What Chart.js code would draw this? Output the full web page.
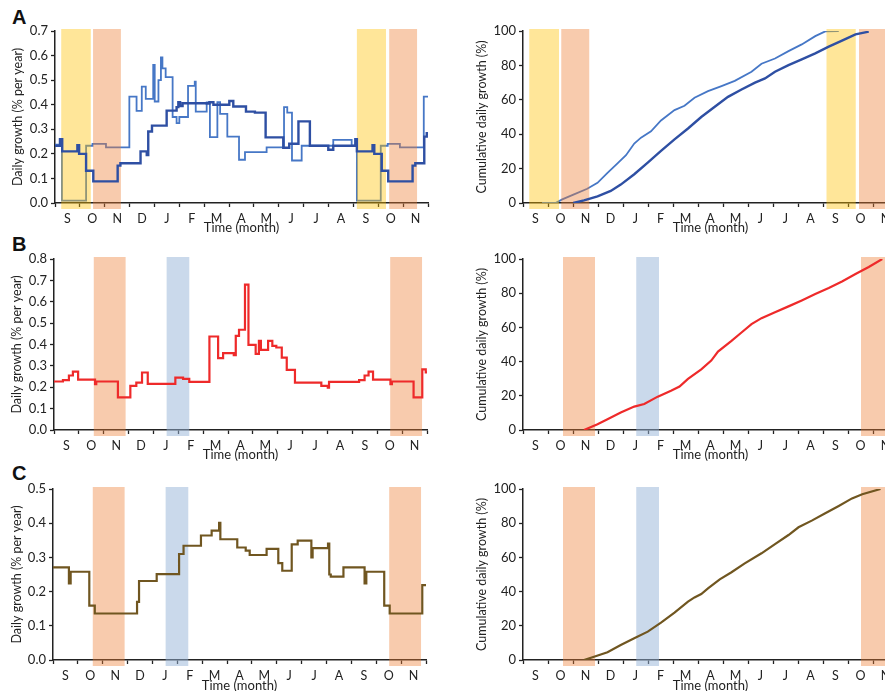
<!DOCTYPE html>
<html>
<head>
<meta charset="utf-8">
<script src="https://cdn.jsdelivr.net/npm/chart.js@4.4.1/dist/chart.umd.min.js"></script>
<style>
  html, body { margin: 0; padding: 0; width: 885px; height: 691px; overflow: hidden; background: #fff; }
  canvas { position: absolute; }
  .tag { position: absolute; font: bold 20px "Liberation Sans", Arial, sans-serif; line-height: 20px; color: #111; }
</style>
</head>
<body>
<div class="tag" style="left:12px;top:7px">A</div>
<div class="tag" style="left:12px;top:234px">B</div>
<div class="tag" style="left:12px;top:463px">C</div>

<canvas id="aLeft" width="440" height="236" style="left:0;top:0"></canvas>
<canvas id="aRight" width="460" height="236" style="left:440px;top:0"></canvas>
<canvas id="bLeft" width="440" height="227" style="left:0;top:236px"></canvas>
<canvas id="bRight" width="460" height="227" style="left:440px;top:236px"></canvas>
<canvas id="cLeft" width="440" height="231" style="left:0;top:463px"></canvas>
<canvas id="cRight" width="460" height="231" style="left:440px;top:463px"></canvas>

<script>
// x values are months counted from the start of September
const months = ['S','O','N','D','J','F','M','A','M','J','J','A','S','O','N'];

// shaded periods [from, to]
const yellowA = [[0.25, 1.44], [12.14, 13.31]];
const orangeA = [[1.53, 2.65], [13.44, 14.56]];
const orangeBC = [[1.6, 2.88], [13.52, 14.8]];
const blueBC = [[4.53, 5.44]];

// A - daily growth (step changes)
const aDarkX = [0, 0.20, 0.29, 0.90, 0.97, 1.25, 1.54, 2.52, 2.63, 3.44, 3.69, 3.75, 3.90, 4.49, 4.89, 4.96, 5.03, 5.13, 6.10, 6.21, 6.37, 7.01, 7.17, 7.68, 8.04, 8.47, 9.18, 9.42, 9.79, 10.25, 10.99, 11.19, 12.08, 12.14, 12.77, 12.84, 13.14, 13.40, 14.38, 14.49, 14.85, 14.95, 15];
const aDarkY = [0.233, 0.26, 0.21, 0.235, 0.20, 0.131, 0.088, 0.152, 0.162, 0.21, 0.195, 0.291, 0.315, 0.376, 0.39, 0.41, 0.395, 0.406, 0.405, 0.41, 0.40, 0.415, 0.393, 0.372, 0.368, 0.267, 0.225, 0.241, 0.332, 0.233, 0.217, 0.233, 0.26, 0.21, 0.235, 0.20, 0.131, 0.088, 0.152, 0.162, 0.27, 0.284, 0.284];
const aLightX = [0, 0.20, 0.28, 1.25, 1.51, 2.05, 2.99, 3.28, 3.49, 3.65, 3.95, 4.01, 4.16, 4.26, 4.32, 4.45, 4.73, 4.89, 5.00, 5.35, 5.62, 5.66, 6.10, 6.23, 6.53, 6.64, 6.93, 7.40, 7.64, 8.51, 9.21, 9.34, 9.53, 9.92, 11.19, 11.93, 12.08, 12.14, 13.10, 13.38, 13.87, 14.83, 15];
const aLightY = [0.237, 0.26, 0.01, 0.233, 0.241, 0.226, 0.433, 0.375, 0.474, 0.424, 0.562, 0.413, 0.50, 0.593, 0.548, 0.512, 0.35, 0.325, 0.35, 0.477, 0.494, 0.372, 0.409, 0.268, 0.41, 0.363, 0.27, 0.176, 0.207, 0.226, 0.39, 0.368, 0.173, 0.233, 0.257, 0.233, 0.26, 0.01, 0.233, 0.241, 0.226, 0.433, 0.433];

// A - cumulative
const aCumDarkX = [2.01, 2.44, 2.98, 3.51, 3.91, 4.45, 4.99, 5.52, 6.06, 6.60, 7.13, 7.67, 8.20, 8.74, 9.28, 9.68, 10.08, 10.62, 11.15, 11.69, 12.23, 12.76, 13.30, 13.83];
const aCumDarkY = [0, 1.5, 3.9, 7, 10.7, 16.7, 23.5, 30.3, 37, 43.3, 50, 56, 61.7, 66, 70, 72.4, 76.3, 80.2, 83.5, 87, 90.9, 94.4, 98, 99.6];
const aCumLightX = [0.76, 1.30, 1.57, 2.04, 2.57, 2.98, 3.38, 3.78, 4.12, 4.45, 4.72, 5.12, 5.52, 6.06, 6.46, 6.86, 7.40, 7.94, 8.47, 9.14, 9.54, 10.08, 10.62, 11.15, 11.69, 12.09, 12.63];
const aCumLightY = [0, 0, 2.1, 5, 8.3, 11.7, 17.5, 23, 27.8, 34.6, 38, 41.7, 48, 54, 56.5, 61.2, 65, 68, 71, 76.3, 81, 84, 88.3, 92.2, 97, 99.8, 100];

// B
const bX = [0, 0.36, 0.60, 0.76, 0.97, 1.65, 1.70, 2.57, 3.07, 3.31, 3.54, 3.77, 4.88, 5.19, 5.44, 6.25, 6.60, 6.80, 7.23, 7.31, 7.44, 7.68, 7.82, 8.11, 8.24, 8.32, 8.61, 8.78, 8.94, 9.16, 9.36, 9.69, 10.75, 11.01, 11.06, 12.27, 12.49, 12.65, 12.83, 13.53, 13.59, 14.46, 14.81, 14.95, 15];
const bY = [0.227, 0.233, 0.255, 0.273, 0.236, 0.214, 0.227, 0.153, 0.206, 0.222, 0.269, 0.216, 0.245, 0.239, 0.225, 0.4375, 0.336, 0.36, 0.35, 0.44, 0.469, 0.68, 0.398, 0.356, 0.417, 0.375, 0.417, 0.394, 0.386, 0.339, 0.281, 0.222, 0.206, 0.198, 0.225, 0.233, 0.255, 0.273, 0.236, 0.214, 0.227, 0.153, 0.284, 0.27, 0.27];
const bCumX = [2.44, 2.98, 3.38, 3.91, 4.45, 4.85, 5.39, 5.92, 6.26, 6.60, 7.13, 7.53, 7.80, 8.34, 8.74, 9.14, 9.54, 10.08, 10.62, 11.15, 11.69, 12.23, 12.76, 13.30, 13.83, 14.37];
const bCumY = [0, 3.3, 6.25, 10.2, 13.7, 15.2, 19.5, 23, 25.4, 29.9, 35.5, 40.6, 45.9, 52.1, 57, 61.9, 65.4, 68.9, 72.3, 75.8, 79.5, 83, 86.9, 91.2, 95.3, 100];

// C
const cX = [0, 0.64, 0.71, 1.46, 1.68, 3.38, 3.46, 4.17, 5.07, 5.25, 5.95, 6.38, 6.68, 6.73, 7.41, 7.75, 7.91, 8.59, 9.06, 9.22, 9.60, 9.84, 10.39, 10.44, 11.06, 11.11, 11.17, 11.68, 12.53, 12.60, 13.32, 13.54, 14.85, 15];
const cY = [0.271, 0.224, 0.258, 0.159, 0.136, 0.17, 0.231, 0.251, 0.31, 0.334, 0.364, 0.378, 0.401, 0.353, 0.329, 0.32, 0.307, 0.325, 0.283, 0.261, 0.338, 0.349, 0.30, 0.327, 0.34, 0.25, 0.244, 0.271, 0.224, 0.258, 0.159, 0.136, 0.219, 0.22];
const cCumX = [2.44, 2.84, 3.38, 3.91, 4.45, 4.99, 5.52, 6.06, 6.60, 6.86, 7.13, 7.40, 7.87, 8.34, 8.87, 9.54, 10.08, 10.62, 11.02, 11.55, 12.09, 12.63, 13.16, 13.57, 14.30];
const cCumY = [0, 1.9, 4.5, 8.8, 12.7, 16.6, 21.8, 27.7, 34.1, 36.6, 38.6, 41.9, 47.2, 51.3, 56.5, 62.4, 67.8, 73.1, 77.6, 81.5, 85.8, 90.1, 94.5, 96.9, 100];

const YELLOW = 'rgba(255, 192, 0, 0.4)';
const ORANGE = 'rgba(237, 125, 49, 0.4)';
const BLUE = 'rgba(150, 180, 215, 0.5)';
const DARK = '#2e4fa3';
const LIGHT = '#4677c6';
const RED = '#ee2a2a';
const BROWN = '#705620';
const INK = '#222';

Chart.defaults.font.family = 'Lato, "Open Sans", sans-serif';
Chart.defaults.color = INK;

const pts = (xs, ys) => xs.map((x, i) => ({ x: x, y: ys[i] }));

function bandList(groups) {
  const out = [];
  groups.forEach(g => g.ranges.forEach(r => out.push({ from: r[0], to: r[1], color: g.color })));
  return out;
}

// shaded periods, painted just before dataset 0 (so later-index lines sit underneath)
function makeBands(list) {
  return {
    id: 'bands',
    beforeDatasetDraw(chart, args) {
      if (args.index !== 0) return;
      const { ctx, scales: { x, y } } = chart;
      ctx.save();
      list.forEach(b => {
        const x1 = x.getPixelForValue(b.from);
        const x2 = x.getPixelForValue(b.to);
        ctx.fillStyle = b.color;
        ctx.fillRect(x1, y.top - 2, x2 - x1, y.bottom - y.top + 8);
      });
      ctx.restore();
    }
  };
}

function line(data, color, width, stepped) {
  return { data: data, borderColor: color, borderWidth: width, stepped: stepped, pointRadius: 0, tension: 0, fill: false };
}

function makePanel(id, cfg) {
  new Chart(document.getElementById(id), {
    type: 'line',
    data: { datasets: cfg.datasets },
    options: {
      responsive: false,
      animation: false,
      events: [],
      layout: { padding: { top: cfg.padTop, right: cfg.padRight, left: 0, bottom: 0 } },
      plugins: { legend: { display: false }, tooltip: { enabled: false } },
      scales: {
        x: {
          type: 'linear',
          min: 0,
          max: 15,
          afterBuildTicks: s => { s.ticks = months.map((m, i) => ({ value: i + 0.5 })); },
          afterFit: s => { s.height = cfg.xHeight; },
          ticks: { callback: (v, i) => months[i], autoSkip: false, maxRotation: 0, padding: 4, font: { size: 12.5 } },
          grid: { offset: true, drawOnChartArea: false, tickLength: 4, color: INK, tickWidth: 1.3 },
          border: { color: INK, width: 1.5 },
          title: { display: true, text: 'Time (month)', font: { size: 13 }, padding: 0 }
        },
        y: {
          min: 0,
          max: cfg.yMax,
          afterFit: s => { s.width = cfg.yWidth; },
          ticks: { stepSize: cfg.yStep, callback: cfg.yFmt, padding: 3, font: { size: 13 } },
          grid: { drawOnChartArea: false, tickLength: 4, color: INK, tickWidth: 1.3 },
          border: { color: INK, width: 1.5 },
          title: { display: true, text: cfg.yTitle, font: { size: 12.5 }, padding: { top: cfg.titlePad, bottom: 0 } }
        }
      }
    },
    plugins: [makeBands(cfg.bands)]
  });
}

const dailyFmt = v => v.toFixed(1);
const cumFmt = v => v;

const bandsA = bandList([{ ranges: yellowA, color: YELLOW }, { ranges: orangeA, color: ORANGE }]);
const bandsBC = bandList([{ ranges: orangeBC, color: ORANGE }, { ranges: blueBC, color: BLUE }]);

makePanel('aLeft', {
  datasets: [line(pts(aDarkX, aDarkY), DARK, 2.4, true), line(pts(aLightX, aLightY), LIGHT, 1.8, true)],
  bands: bandsA, padTop: 31, padRight: 12, xHeight: 33, yWidth: 55, titlePad: 10,
  yMax: 0.7, yStep: 0.1, yFmt: dailyFmt, yTitle: 'Daily growth (% per year)'
});
makePanel('aRight', {
  datasets: [line(pts(aCumDarkX, aCumDarkY), DARK, 2.4, false), line(pts(aCumLightX, aCumLightY), LIGHT, 1.8, false)],
  bands: bandsA, padTop: 31, padRight: 2, xHeight: 33, yWidth: 83, titlePad: 34,
  yMax: 100, yStep: 20, yFmt: cumFmt, yTitle: 'Cumulative daily growth (%)'
});
makePanel('bLeft', {
  datasets: [line(pts(bX, bY), RED, 2.2, true)],
  bands: bandsBC, padTop: 23, padRight: 13, xHeight: 33, yWidth: 54, titlePad: 9,
  yMax: 0.8, yStep: 0.1, yFmt: dailyFmt, yTitle: 'Daily growth (% per year)'
});
makePanel('bRight', {
  datasets: [line(pts(bCumX, bCumY), RED, 2.2, false)],
  bands: bandsBC, padTop: 23, padRight: 2, xHeight: 33, yWidth: 83, titlePad: 34,
  yMax: 100, yStep: 20, yFmt: cumFmt, yTitle: 'Cumulative daily growth (%)'
});
makePanel('cLeft', {
  datasets: [line(pts(cX, cY), BROWN, 2.2, true)],
  bands: bandsBC, padTop: 26, padRight: 14, xHeight: 34, yWidth: 53, titlePad: 9,
  yMax: 0.5, yStep: 0.1, yFmt: dailyFmt, yTitle: 'Daily growth (% per year)'
});
makePanel('cRight', {
  datasets: [line(pts(cCumX, cCumY), BROWN, 2.2, false)],
  bands: bandsBC, padTop: 26, padRight: 2, xHeight: 34, yWidth: 83, titlePad: 34,
  yMax: 100, yStep: 20, yFmt: cumFmt, yTitle: 'Cumulative daily growth (%)'
});
</script>
</body>
</html>
